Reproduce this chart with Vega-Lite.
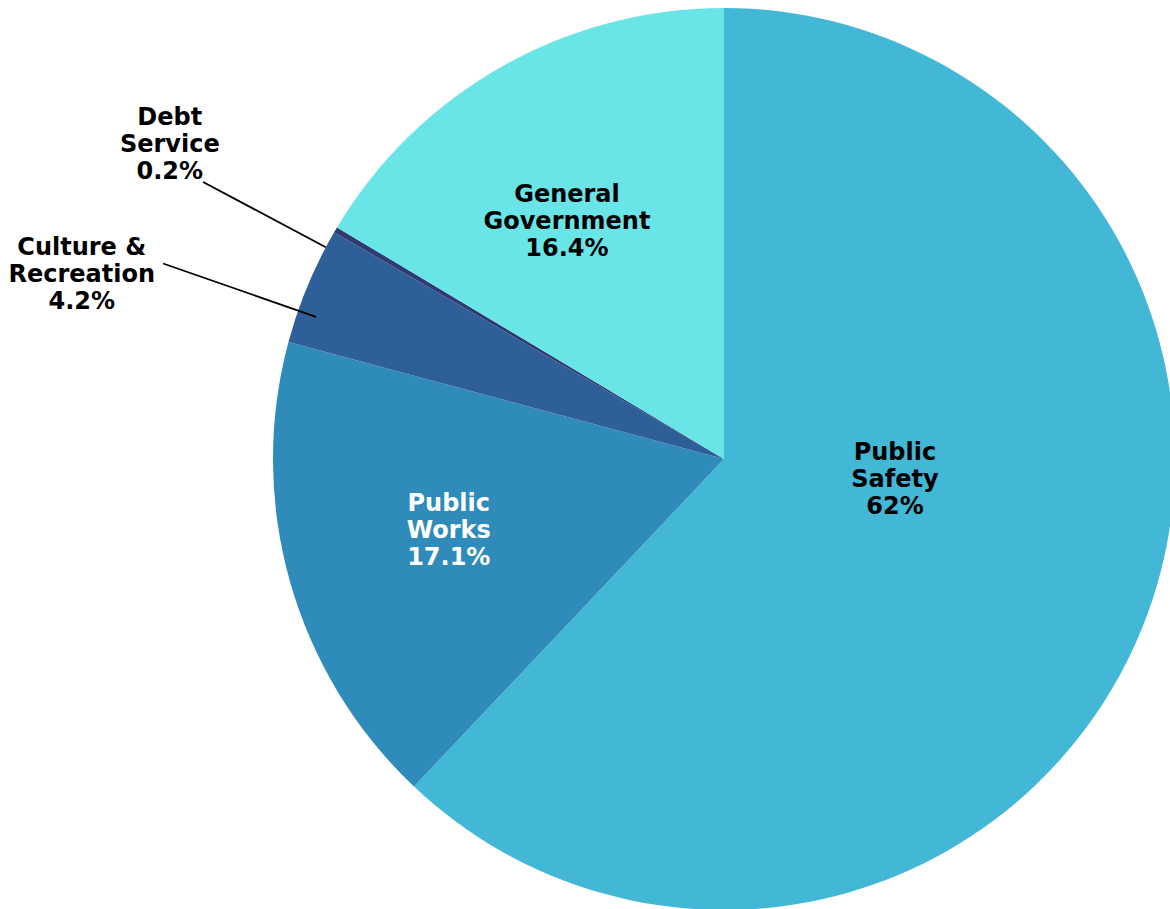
{
  "$schema": "https://vega.github.io/schema/vega-lite/v6.json",
  "width": 1448,
  "height": 918,
  "autosize": "none",
  "padding": 0,
  "background": "white",
  "config": {"view": {"stroke": null}},
  "data": {
    "values": [
      {"category": "Public Safety", "value": 62, "order": 1, "label": "Public\nSafety\n62%"},
      {"category": "Public Works", "value": 17.1, "order": 2, "label": "Public\nWorks\n17.1%"},
      {"category": "Culture & Recreation", "value": 4.2, "order": 3, "label": "Culture &\nRecreation\n4.2%"},
      {"category": "Debt Service", "value": 0.2, "order": 4, "label": "Debt\nService\n0.2%"},
      {"category": "General Government", "value": 16.4, "order": 5, "label": "General\nGovernment\n16.4%"}
    ]
  },
  "encoding": {
    "theta": {"field": "value", "type": "quantitative", "stack": true},
    "order": {"field": "order", "type": "quantitative"}
  },
  "layer": [
    {
      "mark": {"type": "arc", "outerRadius": 451},
      "encoding": {
        "color": {
          "field": "category",
          "type": "nominal",
          "legend": null,
          "scale": {
            "domain": ["Public Safety", "Public Works", "Culture & Recreation", "Debt Service", "General Government"],
            "range": ["#42B7D6", "#2E8BBA", "#2F5F98", "#2E3A72", "#69E5E8"]
          }
        }
      }
    },
    {
      "mark": {"type": "arc", "innerRadius": 432, "outerRadius": 594, "padAngle": 1.2, "thetaOffset": -0.0593, "stroke": "black", "strokeWidth": 1.8, "fillOpacity": 0},
      "encoding": {
        "strokeOpacity": {"condition": {"test": "datum.category === 'Culture & Recreation'", "value": 1}, "value": 0}
      }
    },
    {
      "mark": {"type": "arc", "innerRadius": 451, "outerRadius": 590, "padAngle": 1.2, "thetaOffset": -0.0443, "stroke": "black", "strokeWidth": 1.8, "fillOpacity": 0},
      "encoding": {
        "strokeOpacity": {"condition": {"test": "datum.category === 'Debt Service'", "value": 1}, "value": 0}
      }
    },
    {
      "mark": {"type": "text", "radius": 184, "dy": -74, "font": "DejaVu Sans", "fontWeight": "bold", "fontSize": 24, "lineHeight": 27, "lineBreak": "\n", "align": "center", "baseline": "middle", "color": "black"},
      "encoding": {"text": {"condition": {"test": "datum.category === 'Public Safety'", "field": "label"}, "value": ""}}
    },
    {
      "mark": {"type": "text", "radius": 286, "dy": -33, "font": "DejaVu Sans", "fontWeight": "bold", "fontSize": 24, "lineHeight": 27, "lineBreak": "\n", "align": "center", "baseline": "middle", "color": "white"},
      "encoding": {"text": {"condition": {"test": "datum.category === 'Public Works'", "field": "label"}, "value": ""}}
    },
    {
      "mark": {"type": "text", "radius": 290, "dx": -14, "dy": -12, "font": "DejaVu Sans", "fontWeight": "bold", "fontSize": 24, "lineHeight": 27, "lineBreak": "\n", "align": "center", "baseline": "middle", "color": "black"},
      "encoding": {"text": {"condition": {"test": "datum.category === 'General Government'", "field": "label"}, "value": ""}}
    },
    {
      "mark": {"type": "text", "radius": 640, "dx": -3, "dy": -16, "font": "DejaVu Sans", "fontWeight": "bold", "fontSize": 24, "lineHeight": 27, "lineBreak": "\n", "align": "center", "baseline": "middle", "color": "black"},
      "encoding": {"text": {"condition": {"test": "datum.category === 'Debt Service'", "field": "label"}, "value": ""}}
    },
    {
      "mark": {"type": "text", "radius": 660, "dx": -33, "dy": 43, "font": "DejaVu Sans", "fontWeight": "bold", "fontSize": 24, "lineHeight": 27, "lineBreak": "\n", "align": "center", "baseline": "middle", "color": "black"},
      "encoding": {"text": {"condition": {"test": "datum.category === 'Culture & Recreation'", "field": "label"}, "value": ""}}
    }
  ]
}
